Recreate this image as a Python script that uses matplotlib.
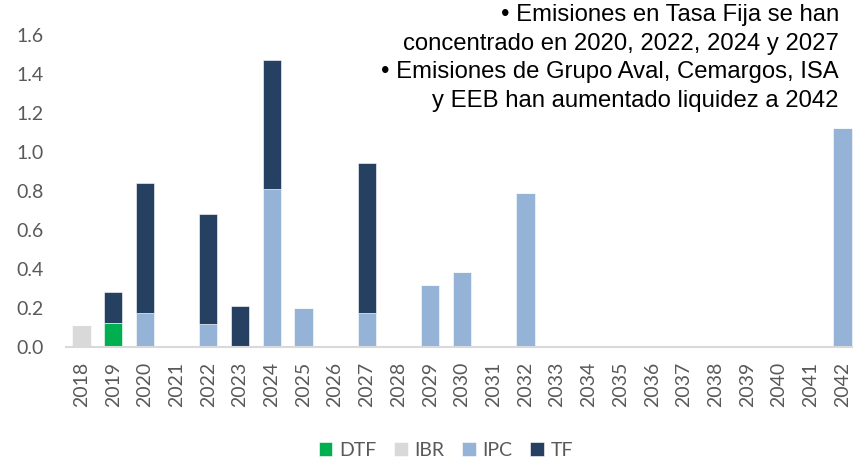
import matplotlib
matplotlib.use('Agg')
import matplotlib.pyplot as plt
import numpy as np

# Datos del gráfico
years = [str(y) for y in range(2018, 2043)]
dtf = [0, 0.12] + [0] * 23
ibr = [0.11] + [0] * 24
ipc = [0, 0, 0.17, 0, 0.115, 0, 0.81, 0.20, 0, 0.17, 0, 0.315, 0.385, 0, 0.79,
       0, 0, 0, 0, 0, 0, 0, 0, 0, 1.12]
tf = [0, 0.16, 0.67, 0, 0.565, 0.21, 0.66, 0, 0, 0.77, 0, 0, 0, 0, 0,
      0, 0, 0, 0, 0, 0, 0, 0, 0, 0]
y_ticks = [0.0, 0.2, 0.4, 0.6, 0.8, 1.0, 1.2, 1.4, 1.6]

note_lines = [
    "• Emisiones en Tasa Fija se han",
    "concentrado en 2020, 2022, 2024 y 2027",
    "• Emisiones de Grupo Aval, Cemargos, ISA",
    "y EEB han aumentado liquidez a 2042",
]

colors = {'DTF': '#00B050', 'IBR': '#D9D9D9', 'IPC': '#95B3D7', 'TF': '#254061'}
gray = '#595959'

plt.rcParams['font.family'] = ['Lato', 'DejaVu Sans']

fig = plt.figure(figsize=(8.54, 4.63), dpi=100)
ax = fig.add_axes([0.0768, 0.2516, 0.9283, 0.6728])

x = np.arange(len(years))
w = 0.58
bottom = np.zeros(len(years))
for name, vals in [('DTF', dtf), ('IBR', ibr), ('IPC', ipc), ('TF', tf)]:
    vals = np.array(vals)
    ax.bar(x, vals, w, bottom=bottom, color=colors[name], label=name,
           edgecolor='white', linewidth=0.4)
    bottom += vals

ax.set_xlim(-0.5, len(years) - 0.5)
ax.set_ylim(0, 1.6)
ax.set_yticks(y_ticks)
ax.set_yticklabels([f'{v:.1f}' for v in y_ticks])
ax.set_xticks(x)
ax.set_xticklabels(years, rotation=90)
ax.tick_params(axis='y', length=0, pad=16, labelsize=14, labelcolor=gray)
ax.tick_params(axis='x', length=0, pad=11, labelsize=14, labelcolor=gray)

for s in ['top', 'right', 'left']:
    ax.spines[s].set_visible(False)
ax.spines['bottom'].set_color('#D9D9D9')
ax.spines['bottom'].set_linewidth(1.5)

# Texto de comentario
line_y = [15, 44, 72, 101]
for txt, yy in zip(note_lines, line_y):
    fig.text(839 / 854, 1 - yy / 463, txt, ha='right', va='center',
             fontsize=17.2, color='black', family=['Liberation Sans', 'DejaVu Sans'])

fig.legend(loc='center', bbox_to_anchor=(446 / 854, 1 - 450.5 / 463), ncol=4,
           frameon=False, fontsize=14, labelcolor=gray, handlelength=0.7,
           handleheight=0.7, handletextpad=0.36, columnspacing=0.9)

fig.savefig('out.png', dpi=100)
